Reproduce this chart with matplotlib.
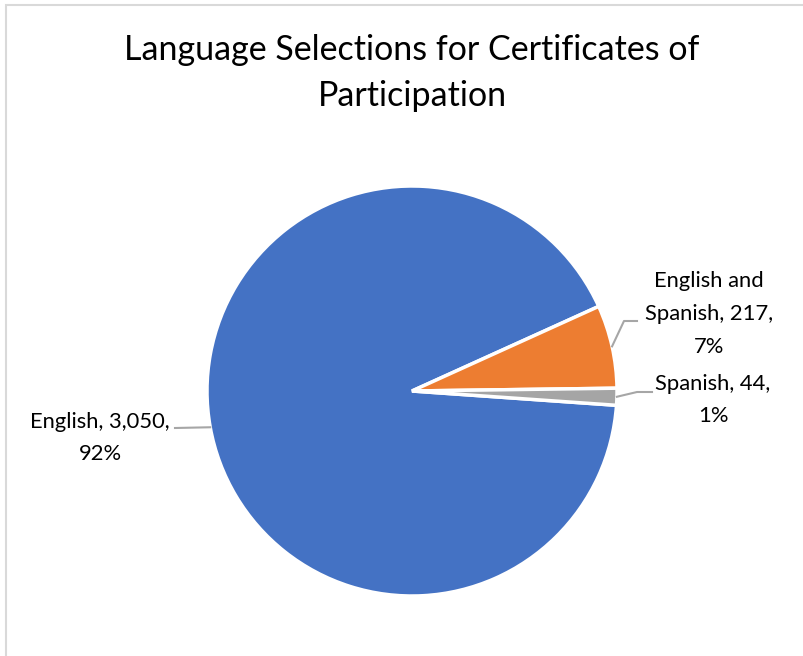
import numpy as np
import matplotlib.pyplot as plt
from matplotlib.patches import Rectangle

# certificate language counts
languages = ["English", "English and Spanish", "Spanish"]
counts = [3050, 217, 44]
colors = ["#4472C4", "#ED7D31", "#A5A5A5"]

W, H = 804, 656
fig = plt.figure(figsize=(W / 100, H / 100), dpi=100)
ax = fig.add_axes([0, 0, 1, 1])

# chart border (cropped on the right and bottom)
ax.add_patch(Rectangle((6, -10), W + 20, H - 5 + 10, fill=False,
                       edgecolor="#D9D9D9", linewidth=1.5))

cx, cy, r = 412, H - 391, 205
start = -4
wedges, _ = ax.pie(counts, colors=colors, startangle=start, counterclock=False,
                   center=(cx, cy), radius=r, frame=True,
                   wedgeprops=dict(edgecolor="white", linewidth=2.5))
ax.set_xlim(0, W)
ax.set_ylim(0, H)
ax.axis("off")

ax.text(W / 2 + 10, H - 73, "Language Selections for Certificates of\nParticipation",
        ha="center", va="center", fontsize=24.5, family="Lato",
        linespacing=1.55, color="#000000")

total = sum(counts)
# label anchor positions and leader bend points (pixel coords from top)
label_pos = [(100, 438), (709, 314), (713, 400)]
bends = [[(175, 428)], [(637, 321), (624, 321)], [(652, 392), (637, 392)]]

for w, name, n, (lx, ly), bend in zip(wedges, languages, counts, label_pos, bends):
    mid = np.deg2rad((w.theta1 + w.theta2) / 2)
    ex, ey = cx + r * np.cos(mid), cy + r * np.sin(mid)
    pct = round(100 * n / total)
    txt = f"{name.replace(' and ', ' and' + chr(10))}, {n:,},\n{pct}%"
    ax.text(lx, H - ly, txt, ha="center", va="center", fontsize=15.8,
            family="Lato", linespacing=1.8, color="#000000")
    xs = [p[0] for p in bend] + [ex]
    ys = [H - p[1] for p in bend] + [ey]
    ax.plot(xs, ys, color="#A6A6A6", linewidth=1.5)

fig.savefig("out.png", dpi=100, facecolor="white")
